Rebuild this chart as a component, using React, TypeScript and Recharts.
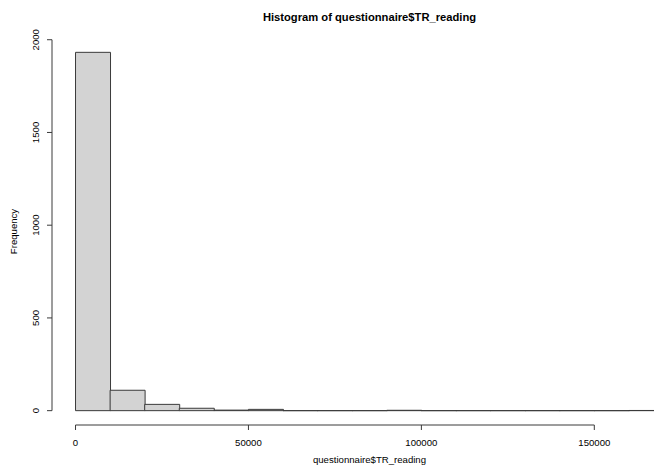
import { Bar, BarChart, ReferenceLine, XAxis, YAxis } from 'recharts'

// histogram bins (lower edges) and their counts
const BIN_LO = [
  0, 10000, 20000, 30000, 40000, 50000, 60000, 70000, 80000,
  90000, 100000, 110000, 120000, 130000, 140000, 150000, 160000,
]
const COUNTS = [1932, 110, 34, 13, 3, 7, 0, 0, 0, 2, 0, 0, 0, 0, 0, 0, 1]
const BIN_WIDTH = 10000

const X_TICKS = [0, 50000, 100000, 150000]
const Y_TICKS = [0, 500, 1000, 1500, 2000]

const TITLE = 'Histogram of questionnaire$TR_reading'
const X_LABEL = 'questionnaire$TR_reading'
const Y_LABEL = 'Frequency'

const W = 654
const H = 470
const LEFT = 52
const TOP = 38
const XAXIS_H = 45
const PLOT_W = 635 // runs past the right edge, like the cropped R device
const FONT = '"Liberation Sans", Arial, Helvetica, sans-serif'
const AXIS_FS = 9.6
const INK = '#000'
const EDGE = '#3a3a3a'

const data = BIN_LO.map((lo, i) => ({ mid: lo + BIN_WIDTH / 2, count: COUNTS[i] }))

// R pads both ranges by 4%
const xLo = BIN_LO[0]
const xHi = BIN_LO[BIN_LO.length - 1] + BIN_WIDTH
const xPad = 0.04 * (xHi - xLo)
const xDomain: [number, number] = [xLo - xPad, xHi + xPad]
const yMax = Math.max(...COUNTS)
const yDomain: [number, number] = [-0.04 * yMax, 1.04 * yMax]

const plotMidX = LEFT + PLOT_W / 2
const plotMidY = (TOP + (H - XAXIS_H)) / 2

// rect outline as a path so empty bins still show as a flat line
function HistBar(props: any) {
  const { x, y, width, height } = props
  if (x == null || y == null) return null
  const d = `M${x},${y}h${width}v${height}h${-width}Z`
  return <path d={d} fill="#d3d3d3" stroke={EDGE} strokeWidth={1} />
}

function YTick(props: any) {
  const { x, y, payload } = props
  return (
    <text
      x={x}
      y={y}
      transform={`rotate(-90 ${x} ${y})`}
      textAnchor="middle"
      fontSize={AXIS_FS}
      fontFamily={FONT}
      fill={INK}
    >
      {payload.value}
    </text>
  )
}

export default function App() {
  return (
    <div style={{ position: 'relative', width: W, height: H, background: '#fff' }}>
      <style>{'body{margin:0}'}</style>
      <BarChart
        width={W}
        height={H}
        data={data}
        barCategoryGap={0}
        barGap={0}
        margin={{ top: TOP, right: W - LEFT - PLOT_W, bottom: 0, left: 0 }}
        style={{ fontFamily: FONT }}
      >
        <XAxis
          type="number"
          dataKey="mid"
          domain={xDomain}
          ticks={X_TICKS}
          interval={0}
          height={XAXIS_H}
          axisLine={false}
          tickLine={{ stroke: EDGE }}
          tickSize={5}
          tickMargin={9}
          tick={{ fill: INK, fontSize: AXIS_FS, fontFamily: FONT }}
        />
        <YAxis
          type="number"
          domain={yDomain}
          ticks={Y_TICKS}
          interval={0}
          width={LEFT}
          axisLine={false}
          tickLine={{ stroke: EDGE }}
          tickSize={5}
          tickMargin={7.5}
          tick={<YTick />}
        />
        <ReferenceLine
          segment={[{ x: X_TICKS[0], y: yDomain[0] }, { x: X_TICKS[X_TICKS.length - 1], y: yDomain[0] }]}
          stroke={EDGE}
          ifOverflow="visible"
        />
        <ReferenceLine
          segment={[{ x: xDomain[0], y: Y_TICKS[0] }, { x: xDomain[0], y: Y_TICKS[Y_TICKS.length - 1] }]}
          stroke={EDGE}
          ifOverflow="visible"
        />
        <Bar dataKey="count" shape={HistBar} isAnimationActive={false} />
      </BarChart>
      <svg
        width={W}
        height={H}
        style={{ position: 'absolute', left: 0, top: 0, pointerEvents: 'none' }}
        fontFamily={FONT}
        fill={INK}
      >
        <text x={plotMidX} y={20.5} textAnchor="middle" fontSize={11.2} fontWeight="bold">
          {TITLE}
        </text>
        <text x={plotMidX} y={462.5} textAnchor="middle" fontSize={AXIS_FS}>
          {X_LABEL}
        </text>
        <text
          x={17}
          y={plotMidY}
          transform={`rotate(-90 17 ${plotMidY})`}
          textAnchor="middle"
          fontSize={AXIS_FS}
        >
          {Y_LABEL}
        </text>
      </svg>
    </div>
  )
}
